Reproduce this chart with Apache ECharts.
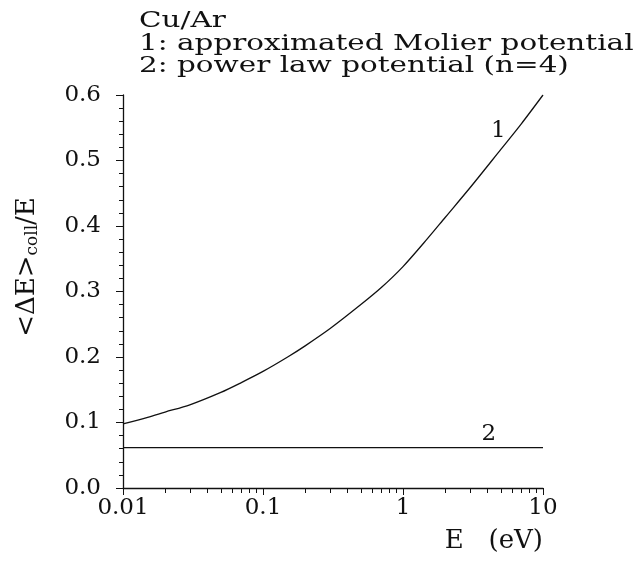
<!DOCTYPE html>
<html>
<head>
<meta charset="utf-8">
<script src="https://cdn.jsdelivr.net/npm/echarts@6/dist/echarts.min.js"></script>
<style>
  html, body { margin: 0; padding: 0; background: #fff; }
  #chart { width: 634px; height: 562px; }
</style>
</head>
<body>
<div id="chart"></div>
<script>
// energies (eV) and the two curves
const energy = [0.01, 0.015, 0.02, 0.03, 0.05, 0.07, 0.1, 0.15, 0.2, 0.3, 0.5, 0.7, 1, 1.5, 2, 3, 5, 7, 10]
const molier = [0.098, 0.108, 0.116, 0.127, 0.146, 0.161, 0.178, 0.200, 0.217, 0.243, 0.280, 0.306, 0.338, 0.381, 0.413, 0.458, 0.517, 0.556, 0.600]
const powerLaw = [0.0615, 0.0615, 0.0615, 0.0615, 0.0615, 0.0615, 0.0615, 0.0615, 0.0615, 0.0615, 0.0615, 0.0615, 0.0615, 0.0615, 0.0615, 0.0615, 0.0615, 0.0615, 0.0615]
const xTicks = ['0.01', '0.1', '1', '10']
const legendLines = ['Cu/Ar', '1: approximated Molier potential', '2: power law potential (n=4)']

const serif = 'DejaVu Serif'
const ink = '#111'

const chart = echarts.init(document.getElementById('chart'))

const pairs = (ys) => energy.map((e, i) => [e, ys[i]])

// header lines, stretched a bit like the plotter lettering
const header = legendLines.map((t, i) => ({
  type: 'text',
  x: 139,
  y: 10 + i * 22.5,
  scaleX: 1.28,
  style: { text: t, font: '23px "DejaVu Serif"', fill: ink }
}))

chart.setOption({
  backgroundColor: '#fff',
  animation: false,
  graphic: [
    ...header,
    {
      type: 'text',
      x: 27,
      y: 267,
      rotation: Math.PI / 2,
      style: {
        text: '<ΔE>{s|coll}/E',
        font: '26px "DejaVu Serif"',
        fill: ink,
        align: 'center',
        verticalAlign: 'middle',
        rich: { s: { fontFamily: serif, fontSize: 17, fill: ink, verticalAlign: 'bottom', padding: [12, 0, 0, 0] } }
      }
    }
  ],
  grid: { left: 123, right: 91, top: 95, bottom: 74 },
  xAxis: {
    type: 'log',
    logBase: 10,
    min: 0.01,
    max: 10,
    name: 'E   (eV)',
    nameLocation: 'end',
    nameGap: 0,
    nameTextStyle: { fontFamily: serif, fontSize: 26, color: ink, align: 'right', verticalAlign: 'top', padding: [40, 0, 0, 0] },
    axisLine: { lineStyle: { color: ink, width: 1.3 } },
    axisTick: { length: 7, lineStyle: { color: ink } },
    minorTick: { show: true, splitNumber: 9, length: 5, lineStyle: { color: ink } },
    splitLine: { show: false },
    axisLabel: {
      fontFamily: serif, fontSize: 23, color: ink, margin: 9,
      formatter: (v) => xTicks.find(t => Math.abs(parseFloat(t) - v) < 1e-9 * Math.max(1, v)) || ''
    }
  },
  yAxis: {
    type: 'value',
    min: 0,
    max: 0.6,
    interval: 0.1,
    axisLine: { show: true, lineStyle: { color: ink, width: 1.3 } },
    axisTick: { length: 7, lineStyle: { color: ink } },
    minorTick: { show: true, splitNumber: 5, length: 4, lineStyle: { color: ink } },
    splitLine: { show: false },
    axisLabel: { fontFamily: serif, fontSize: 23, color: ink, margin: 22, formatter: (v) => v.toFixed(1) }
  },
  series: [
    {
      type: 'line',
      data: pairs(molier),
      smooth: 0.3,
      showSymbol: false,
      lineStyle: { color: ink, width: 1.3 },
      markPoint: {
        symbolSize: 0,
        label: { show: true, formatter: '1', fontFamily: serif, fontSize: 23, color: ink },
        data: [{ coord: [4.8, 0.545] }]
      }
    },
    {
      type: 'line',
      data: pairs(powerLaw),
      showSymbol: false,
      lineStyle: { color: ink, width: 1.3 },
      markPoint: {
        symbolSize: 0,
        label: { show: true, formatter: '2', fontFamily: serif, fontSize: 23, color: ink },
        data: [{ coord: [4.1, 0.082] }]
      }
    }
  ]
})
</script>
</body>
</html>
